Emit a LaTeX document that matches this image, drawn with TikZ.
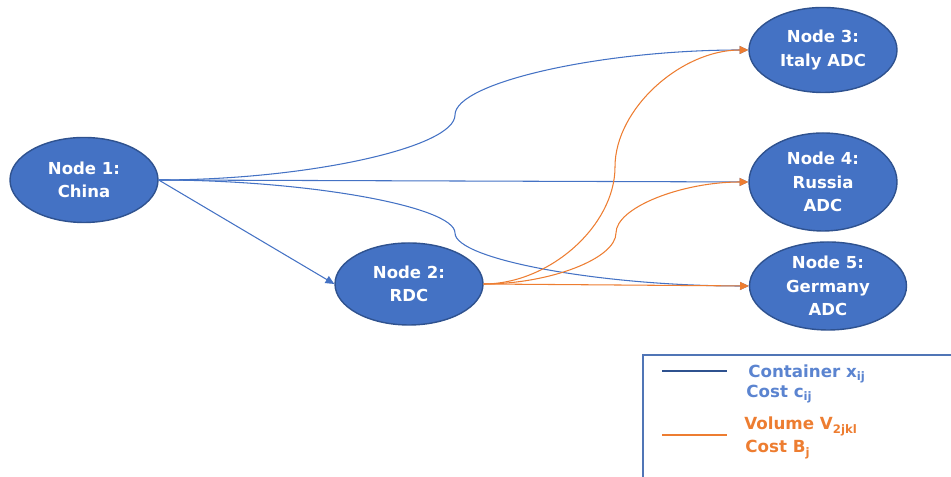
\documentclass[tikz,border=0pt]{standalone}
\usepackage{fontspec}
\setmainfont{DejaVu Sans}
\usepackage{xcolor}
\usetikzlibrary{shapes.geometric,arrows.meta}
\definecolor{nodeblue}{HTML}{4472C4}
\definecolor{nodeedge}{HTML}{2F528F}
\definecolor{flowblue}{HTML}{4472C4}
\definecolor{flowora}{HTML}{ED7D31}
\definecolor{legtxt}{HTML}{5B84D0}

\begin{document}
\begin{tikzpicture}[>={Triangle[width=4.5pt,length=5pt]},
  site/.style={ellipse,draw=nodeedge,line width=0.8pt,fill=nodeblue,inner sep=0pt,
    minimum width=2.96cm,minimum height=1.7cm,text=white,align=center,
    font=\fontsize{9.4}{13.2}\selectfont\bfseries},
  cont/.style={->,flowblue,line width=0.6pt},
  vol/.style={->,flowora,line width=0.6pt},
  legtext/.style={anchor=west,inner sep=0pt,font=\fontsize{9.5}{12}\selectfont\bfseries}]
\useasboundingbox (0,0) rectangle (19.02,9.54);

% ---- sites
\node[site] (n1) at (1.68,5.94) {Node 1:\\China};
\node[site,minimum height=1.64cm] (n2) at (8.18,3.86) {Node 2:\\RDC};
\node[site] (n3) at (16.46,8.54) {Node 3:\\Italy ADC};
\node[site,minimum height=1.96cm] (n4) at (16.46,5.90) {Node 4:\\Russia\\ADC};
\node[site,minimum width=3.14cm,minimum height=1.76cm] (n5) at (16.56,3.82) {Node 5:\\Germany\\ADC};

% ---- bends of the curved connectors
\coordinate (m13) at (9.10,7.24);
\coordinate (m15) at (9.10,4.88);
\coordinate (m23) at (12.30,6.20);
\coordinate (m24) at (12.32,4.88);

% ---- container flows from China
\draw[cont] (n1.east) -- (n2.west);
\draw[cont] (n1.east) -- (n4.west);
\draw[cont] (n1.east) .. controls +(2.97,0) and +(0,-0.65) .. (m13)
  .. controls +(0,0.65) and +(-2.94,0) .. (n3.west);
\draw[cont] (n1.east) .. controls +(2.97,0) and +(0,0.53) .. (m15)
  .. controls +(0,-0.53) and +(-2.95,0) .. (n5.west);

% ---- volume flows from RDC
\draw[vol] (n2.east) -- (n5.west);
\draw[vol] (n2.east) .. controls +(1.32,0) and +(0,-1.17) .. (m23)
  .. controls +(0,1.17) and +(-1.34,0) .. (n3.west);
\draw[vol] (n2.east) .. controls +(1.33,0) and +(0,-0.51) .. (m24)
  .. controls +(0,0.51) and +(-1.33,0) .. (n4.west);

% ---- legend
\draw[draw=nodeblue!80!gray,line width=0.8pt] (19.2,2.44) -- (12.86,2.44) -- (12.86,-0.1);
\coordinate (lb1) at (13.24,2.12); \coordinate (lb2) at (14.54,2.12);
\coordinate (lo1) at (13.24,0.84); \coordinate (lo2) at (14.54,0.84);
\draw[nodeedge,line width=0.6pt] (lb1) -- (lb2);
\draw[flowora,line width=0.6pt] (lo1) -- (lo2);
\node[legtext,legtxt] (lc1) at (14.96,2.06) {Container x\textsubscript{ij}};
\node[legtext,legtxt] (lc2) at (14.92,1.66) {Cost c\textsubscript{ij}};
\node[legtext,flowora] (lv1) at (14.88,1.01) {Volume V\textsubscript{2jkl}};
\node[legtext,flowora] (lv2) at (14.90,0.55) {Cost B\textsubscript{j}};
\end{tikzpicture}
\end{document}
